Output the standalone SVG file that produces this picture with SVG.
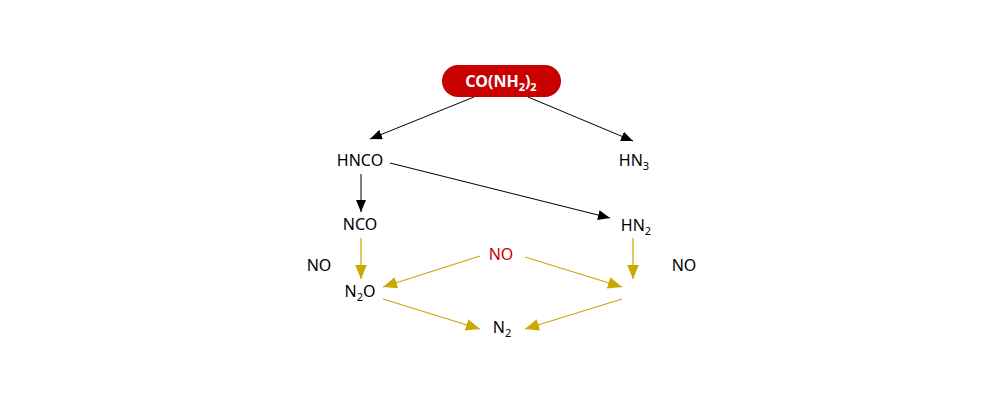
<svg xmlns="http://www.w3.org/2000/svg" width="1000" height="400" viewBox="0 0 1000 400">
<style>
text{font-family:"Noto Sans","Open Sans","DejaVu Sans",sans-serif;font-size:16px;text-anchor:middle;fill:#000}
.sub{font-size:11px}
.k{stroke:#000;stroke-width:1;fill:none}
.g{stroke:#c9a800;stroke-width:1.2;fill:none}
</style>
<defs>
<marker id="ak" viewBox="0 0 12 10" refX="12" refY="5" markerWidth="12" markerHeight="10" markerUnits="userSpaceOnUse" orient="auto"><path d="M0,0L12,5L0,10z" fill="#000"/></marker>
<marker id="ag" viewBox="0 0 12 10" refX="12" refY="5" markerWidth="14" markerHeight="12" markerUnits="userSpaceOnUse" orient="auto"><path d="M0,0L12,5L0,10z" fill="#c9a800"/></marker>
</defs>
<g id="connectors">
<line class="k" x1="474" y1="97" x2="370" y2="139" marker-end="url(#ak)"/>
<line class="k" x1="528" y1="97" x2="633" y2="141" marker-end="url(#ak)"/>
<line class="k" x1="361" y1="174" x2="361" y2="212" marker-end="url(#ak)"/>
<line class="k" x1="390" y1="163" x2="610" y2="218" marker-end="url(#ak)"/>
<line class="g" x1="361" y1="238" x2="361" y2="279" marker-end="url(#ag)"/>
<line class="g" x1="633" y1="238" x2="633" y2="279" marker-end="url(#ag)"/>
<line class="g" x1="480" y1="256" x2="383" y2="287" marker-end="url(#ag)"/>
<line class="g" x1="525" y1="257" x2="622" y2="287" marker-end="url(#ag)"/>
<line class="g" x1="383" y1="299" x2="480" y2="329" marker-end="url(#ag)"/>
<line class="g" x1="622" y1="299" x2="525" y2="329" marker-end="url(#ag)"/>
</g>
<g id="urea">
<rect x="442" y="65" width="119" height="32" rx="16" fill="#c80000"/>
<text x="501" y="87" style="fill:#fff;font-weight:bold">CO(NH<tspan class="sub" dy="4">2</tspan><tspan dy="-4">)</tspan><tspan class="sub" dy="4">2</tspan></text>
</g>
<g id="hnco"><text x="360" y="166">HNCO</text></g>
<g id="hn3"><text x="634" y="166">HN<tspan class="sub" dy="4">3</tspan></text></g>
<g id="nco"><text x="360" y="230">NCO</text></g>
<g id="hn2"><text x="636" y="231">HN<tspan class="sub" dy="4">2</tspan></text></g>
<g id="no-center"><text x="501" y="260" style="fill:#c80000">NO</text></g>
<g id="no-left"><text x="319" y="271">NO</text></g>
<g id="no-right"><text x="684" y="271">NO</text></g>
<g id="n2o"><text x="360" y="297">N<tspan class="sub" dy="4">2</tspan><tspan dy="-4">O</tspan></text></g>
<g id="n2"><text x="502" y="333">N<tspan class="sub" dy="4">2</tspan></text></g>
</svg>
